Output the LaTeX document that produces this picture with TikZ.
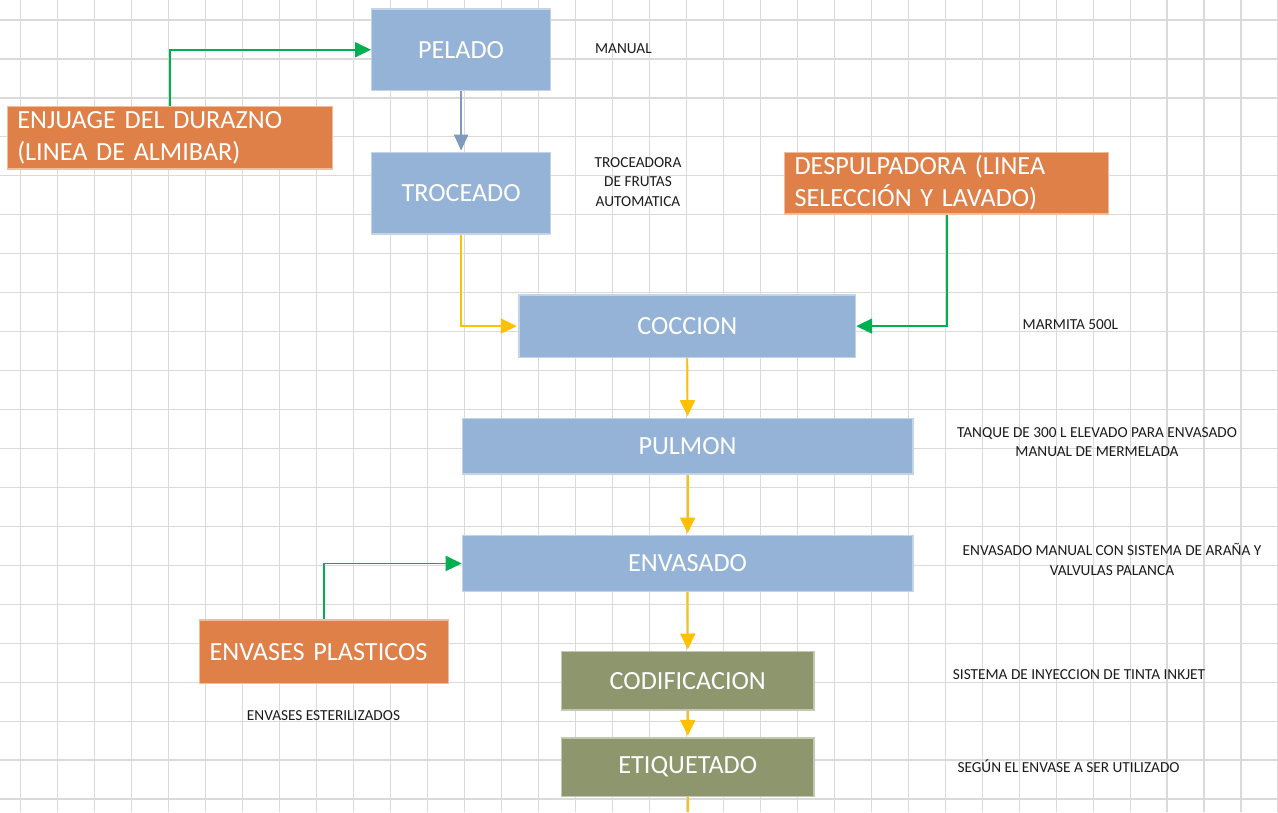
\documentclass[tikz,border=0pt]{standalone}
\usepackage{fontspec}
\setmainfont{Carlito}
\newfontfamily\boxfont[WordSpace=0.8]{Carlito}
\usetikzlibrary{arrows.meta}
\definecolor{bfill}{HTML}{95B3D7}
\definecolor{bedge}{HTML}{C3D4E9}
\definecolor{ofill}{HTML}{DF8048}
\definecolor{oedge}{HTML}{F0BE9F}
\definecolor{gfill}{HTML}{8E966E}
\definecolor{gedge}{HTML}{C4C8B2}
\definecolor{grn}{HTML}{00B050}
\definecolor{yel}{HTML}{FFC000}
\definecolor{stl}{HTML}{7E9BBE}
\definecolor{gridc}{HTML}{DADADA}
\definecolor{lbl}{HTML}{1C1C1C}
\tikzset{
  gridline/.style={draw=gridc, line width=1.2pt},
  boxbase/.style={anchor=north west, inner sep=0pt, line width=1.2pt, text=white,
    font=\boxfont\fontsize{26.2}{32}\selectfont},
  bluebox/.style={boxbase, fill=bfill, draw=bedge},
  olivebox/.style={boxbase, fill=gfill, draw=gedge},
  orangebox/.style={boxbase, fill=ofill, draw=oedge, align=left, inner xsep=10pt},
  note/.style={inner sep=0pt, text=lbl, align=center, font=\fontsize{15.3}{19.3}\selectfont},
  grnarrow/.style={draw=grn, line width=1.8pt, -{Triangle[length=16pt,width=15pt]}},
  yelarrow/.style={draw=yel, line width=1.9pt, -{Triangle[length=16pt,width=15pt]}, shorten >=1.5pt},
  yelline/.style={draw=yel, line width=1.9pt},
  stlarrow/.style={draw=stl, line width=1.8pt, -{Triangle[length=16pt,width=14pt]}, shorten >=1pt},
}
\begin{document}
\begin{tikzpicture}[x=1pt,y=-1pt]
\useasboundingbox (0,0) rectangle (1278,812);
\fill[white] (0,0) rectangle (1278,812);
% grid
\foreach \i in {0,...,34} \draw[gridline] ({20.7+36.98*\i},0) -- ({20.7+36.98*\i},812);
\foreach \j in {0,...,20} \draw[gridline] (0,{20+38.95*\j}) -- (1278,{20+38.95*\j});

% process boxes
\node[bluebox, minimum width=179pt, minimum height=81.7pt] (pel) at (371,8.3) {PELADO};
\node[bluebox, minimum width=179pt, minimum height=81.6pt] (troc) at (371,151.7) {TROCEADO};
\node[bluebox, minimum width=336.7pt, minimum height=62.4pt] (coc) at (518.3,294.3) {COCCION};
\node[bluebox, minimum width=450.6pt, minimum height=55.6pt] (pul) at (461.7,417.7) {PULMON};
\node[bluebox, minimum width=450.6pt, minimum height=55.7pt] (env) at (461.7,535) {ENVASADO};
\node[olivebox, minimum width=252.4pt, minimum height=58.3pt] (cod) at (561,651) {CODIFICACION};
\node[olivebox, minimum width=252.4pt, minimum height=58.4pt] (eti) at (561,737.3) {ETIQUETADO};

% input boxes
\node[orangebox, text width=305pt, minimum height=62.3pt] (enj) at (6.7,106) {ENJUAGE DEL DURAZNO\\(LINEA DE ALMIBAR)};
\node[orangebox, text width=304pt, minimum height=61.6pt] (desp) at (784,151.7) {DESPULPADORA (LINEA\\SELECCIÓN Y LAVADO)};
\node[orangebox, text width=229pt, minimum height=63.4pt] (envp) at (199,619.3) {ENVASES PLASTICOS};

% notes
\node[note] (lman) at (623.4,49) {MANUAL};
\node[note] (ltro) at (638,182) {TROCEADORA\\DE FRUTAS\\AUTOMATICA};
\node[note, anchor=west] (lmar) at (1022.5,325) {MARMITA 500L};
\node[note] (ltan) at (1097,442) {TANQUE DE 300 L ELEVADO PARA ENVASADO\\MANUAL DE MERMELADA};
\node[note] (lenv) at (1112,559.5) {ENVASADO MANUAL CON SISTEMA DE ARAÑA Y\\VALVULAS PALANCA};
\node[note, anchor=west] (lsis) at (952.7,674.5) {SISTEMA DE INYECCION DE TINTA INKJET};
\node[note, anchor=west] (lseg) at (957.3,766) {SEGÚN EL ENVASE A SER UTILIZADO};
\node[note] (lest) at (323.5,716) {ENVASES ESTERILIZADOS};

% connectors
\draw[grnarrow] (enj.north) |- (pel.west);
\draw[stlarrow] (pel.south) -- (troc.north);
\draw[yelarrow] (troc.south) |- (coc.west);
\draw[grnarrow] (desp.south) |- (coc.east);
\draw[yelarrow] (coc.south) -- (pul.north);
\draw[yelarrow] (pul.south) -- (env.north);
\draw[grnarrow] (envp.north) |- (env.west);
\draw[yelarrow] (env.south) -- (cod.north);
\draw[yelarrow] (cod.south) -- (eti.north);
\coordinate (bot) at (687,812);
\draw[yelline] (eti.south) -- (eti.south |- bot);
\end{tikzpicture}
\end{document}
